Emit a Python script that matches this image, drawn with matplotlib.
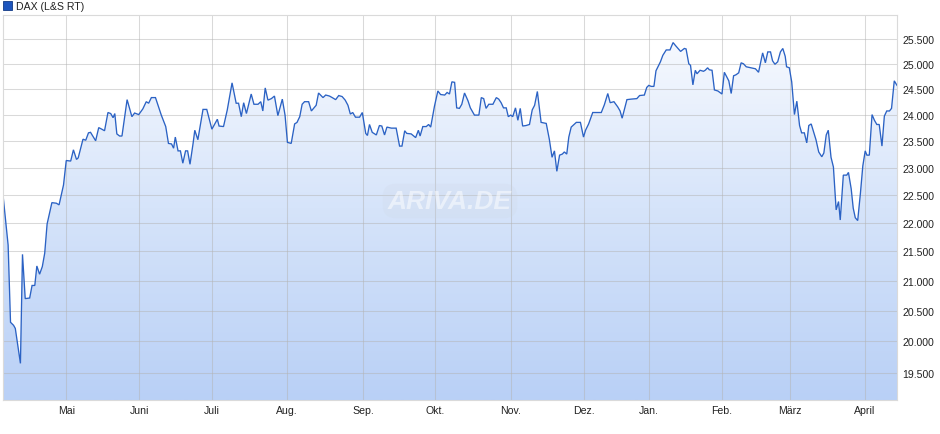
import matplotlib
matplotlib.use("Agg")
import matplotlib.pyplot as plt
import numpy as np
from matplotlib.colors import LinearSegmentedColormap
from matplotlib.ticker import FixedLocator, NullLocator

plt.rcParams['font.family'] = ['Liberation Sans', 'DejaVu Sans']

# Handelstage seit Anfang April 2025 und Schlusskurse
tage = [0.0, 1.5, 2.2, 3.1, 3.6, 5.1, 5.7, 6.5, 7.8, 8.5, 9.3, 9.9, 10.7, 11.5, 12.2, 12.9,
        14.3, 15.6, 16.4, 17.7, 18.5, 19.8, 20.6, 21.5, 22.0, 23.4, 24.2, 25.0, 25.6, 27.1,
        28.0, 28.9, 29.7, 30.7, 31.5, 32.2, 32.7, 33.3, 34.1, 34.8, 36.3, 37.7, 38.5, 39.7,
        40.9, 41.9, 42.6, 43.4, 44.6, 46.3, 47.6, 48.4, 49.3, 49.9, 50.4, 51.2, 51.9, 52.6,
        53.4, 54.0, 54.7, 55.6, 56.1, 57.0, 58.5, 59.6, 61.1, 62.7, 63.2, 64.5, 65.6, 67.0,
        68.2, 68.9, 69.7, 70.4, 71.2, 72.6, 73.4, 74.6, 75.4, 76.0, 76.7, 77.5, 78.5, 79.4,
        80.4, 81.7, 82.5, 83.2, 84.3, 85.3, 86.0, 86.8, 87.5, 88.2, 89.4, 90.2, 91.6, 92.3,
        93.6, 94.4, 95.5, 96.3, 97.3, 98.2, 99.2, 100.1, 100.9, 101.6, 102.3, 103.1, 104.3,
        105.1, 106.1, 106.6, 107.2, 108.0, 109.2, 110.1, 110.8, 111.6, 112.3, 113.6, 115.0,
        116.0, 116.7, 117.5, 118.1, 119.4, 120.7, 121.5, 122.0, 122.8, 123.8, 124.5, 125.1,
        126.2, 127.2, 128.0, 129.2, 129.9, 130.6, 131.3, 132.1, 132.7, 133.5, 134.2, 135.0,
        136.0, 136.7, 137.9, 139.2, 139.9, 140.6, 141.3, 142.1, 143.3, 144.3, 145.0, 145.7,
        146.4, 147.2, 147.8, 148.5, 149.1, 149.9, 150.6, 151.3, 152.0, 153.0, 154.0, 154.8,
        155.5, 156.3, 157.4, 158.9, 159.8, 160.6, 161.3, 162.0, 162.8, 163.6, 164.2, 164.9,
        165.5, 166.2, 167.7, 168.9, 169.8, 170.4, 171.3, 172.5, 174.0, 175.0, 175.9, 176.9,
        177.6, 178.7, 179.8, 180.5, 181.1, 182.5, 183.7, 185.4, 186.2, 187.6, 188.3, 188.9,
        189.6, 190.4, 191.0, 192.3, 193.0, 194.0, 195.1, 196.0, 196.7, 198.2, 199.3, 199.8,
        200.6, 201.1, 201.8, 202.5, 203.0, 203.9, 204.9, 205.4, 206.1, 206.6, 207.4, 208.1,
        209.1, 210.3, 211.0, 211.7, 212.3, 213.0, 213.7, 214.4, 215.2, 215.9, 216.6, 217.4,
        218.8, 220.1, 221.0, 222.2, 223.0, 223.7, 224.5, 225.1, 225.8, 226.6, 227.4, 228.1,
        228.8, 229.2, 230.0, 230.7, 231.5, 232.2, 233.0, 233.6, 234.4, 235.1, 235.7, 236.4,
        237.8, 238.6, 239.5, 240.1, 240.8, 241.4, 242.2, 242.9, 243.7, 244.4, 244.9, 245.8,
        246.8, 247.3, 248.1, 248.7, 249.3, 250.0, 250.8, 251.5, 252.2, 252.7, 253.4, 254.2,
        254.9, 255.6, 256.3, 257.1, 257.8, 258.5, 259.3, 259.9, 260.7, 261.5]

kurse = [22500, 21610, 20310, 20260, 20210, 19650, 21450, 20700, 20710, 20920, 20920, 21250,
         21110, 21240, 21470, 21980, 22360, 22350, 22320, 22680, 23130, 23120, 23330, 23150,
         23180, 23530, 23510, 23650, 23660, 23500, 23750, 23720, 23690, 24040, 24020, 23940,
         24020, 23630, 23590, 23590, 24290, 23960, 24030, 24000, 24110, 24250, 24220, 24330,
         24330, 23990, 23770, 23450, 23440, 23360, 23570, 23310, 23310, 23080, 23310, 23310,
         23060, 23450, 23700, 23520, 24100, 24100, 23720, 23910, 23780, 23770, 24090, 24620,
         24220, 24220, 23960, 24230, 24020, 24400, 24200, 24200, 24250, 24070, 24520, 24280,
         24310, 24360, 23980, 24300, 23990, 23470, 23450, 23820, 23850, 23960, 24200, 24250,
         24250, 24070, 24180, 24420, 24330, 24380, 24360, 24330, 24290, 24370, 24350, 24280,
         24180, 24010, 24040, 23950, 23950, 24040, 23640, 23600, 23810, 23660, 23610, 23790,
         23780, 23610, 23760, 23740, 23740, 23400, 23400, 23690, 23640, 23630, 23560, 23700,
         23590, 23770, 23770, 23810, 23760, 24160, 24460, 24390, 24380, 24430, 24400, 24640,
         24630, 24130, 24120, 24200, 24420, 24270, 24130, 23990, 23990, 24330, 24310, 24120,
         24200, 24200, 24330, 24300, 24230, 24130, 24130, 23960, 23990, 23960, 24130, 23890,
         24120, 23780, 23790, 23810, 24090, 24180, 24450, 23850, 23830, 23530, 23190, 23310,
         22930, 23230, 23250, 23290, 23250, 23570, 23760, 23850, 23850, 23570, 23700, 23820,
         24040, 24040, 24040, 24190, 24410, 24230, 24250, 24150, 24070, 23930, 24290, 24300,
         24310, 24370, 24380, 24530, 24570, 24550, 24550, 24860, 25040, 25170, 25280, 25280,
         25430, 25370, 25250, 25310, 25300, 25000, 24970, 24580, 24870, 24800, 24870, 24850,
         24870, 24920, 24880, 24870, 24480, 24460, 24400, 24830, 24740, 24660, 24410, 24760,
         24780, 24820, 25020, 25000, 24940, 24920, 24900, 24830, 25220, 25020, 25240, 25240,
         25060, 24990, 25040, 25240, 25310, 25150, 24940, 24920, 24640, 24000, 24260, 23790,
         23650, 23650, 23460, 23790, 23820, 23520, 23290, 23200, 23270, 23610, 23700, 23190,
         23010, 22230, 22380, 22050, 22860, 22860, 22910, 22610, 22260, 22090, 22040, 22530,
         23030, 23310, 23230, 23230, 24000, 23890, 23810, 23810, 23400, 23970, 24070, 24070,
         24120, 24660, 24570]

monate = ['Mai', 'Juni', 'Juli', 'Aug.', 'Sep.', 'Okt.', 'Nov.', 'Dez.', 'Jan.', 'Feb.',
          'März', 'April']
monat_start = [18.5, 39.8, 61.1, 83.0, 105.3, 126.3, 148.5, 169.9, 188.9, 210.2, 230.1, 252.0]

y_ticks = list(range(19500, 26000, 500))
y_min, y_max = 19080, 26000

LINE = '#2b62c4'
GRID = '#dadada'

fig = plt.figure(figsize=(9.4, 4.35), dpi=100)
ax = fig.add_axes([3 / 940, 34 / 435, 894 / 940, 385 / 435])
ax.set_yscale('log')
ax.set_facecolor('white')

# Fläche unter der Linie mit vertikalem Verlauf
poly = ax.fill_between(tage, kurse, y_min * 0.9, facecolor='none', edgecolor='none')
cmap = LinearSegmentedColormap.from_list('verlauf', ['#b9d0f6', '#d6e4fa', '#fbfcff'])
grad = np.linspace(0, 1, 256).reshape(-1, 1)
im = ax.imshow(grad, extent=[0, 1, 0, 1], transform=ax.transAxes, origin='lower',
               aspect='auto', cmap=cmap, zorder=1, interpolation='bilinear')
im.set_clip_path(poly.get_paths()[0], transform=ax.transData)

ax.plot(tage, kurse, color=LINE, lw=0.95, zorder=4, solid_joinstyle='miter')

ax.set_xlim(tage[0], tage[-1])
ax.set_ylim(y_min, y_max)

ax.yaxis.set_major_locator(FixedLocator(y_ticks))
ax.yaxis.set_minor_locator(NullLocator())
ax.set_yticklabels([f'{v:,}'.replace(',', '.') for v in y_ticks])
ax.yaxis.tick_right()
ax.set_xticks(monat_start)
ax.set_xticklabels(monate)
ax.tick_params(length=0, labelsize=7.6, colors='#222222')
ax.tick_params(axis='y', pad=4)
ax.tick_params(axis='x', pad=3.5)

ax.grid(True, color='#b4b4b4', alpha=0.5, lw=0.75, zorder=2)
ax.set_axisbelow(False)
for s in ax.spines.values():
    s.set_color(GRID)
    s.set_linewidth(0.8)
    s.set_zorder(5)

# Wasserzeichen
ax.text(0.5, 0.517, 'ARIVA.DE', transform=ax.transAxes, ha='center', va='center',
        fontsize=19, fontstyle='italic', fontweight='bold', color=(1, 1, 1, 0.5), zorder=3,
        bbox=dict(boxstyle='round,pad=0.2,rounding_size=0.5', fc=(0.8, 0.83, 0.88, 0.18),
                  ec='none'))

# Legende
fig.patches.append(plt.Rectangle((3 / 940, 1 - 11 / 435), 9 / 940, 9 / 435,
                                 transform=fig.transFigure, fc='#1d55bd', ec='#123a85',
                                 lw=0.6))
fig.text(16 / 940, 1 - 6.5 / 435, 'DAX (L&S RT)', fontsize=7.6, color='#222222',
         va='center', ha='left')

fig.savefig('out.png', dpi=100, facecolor='white')
